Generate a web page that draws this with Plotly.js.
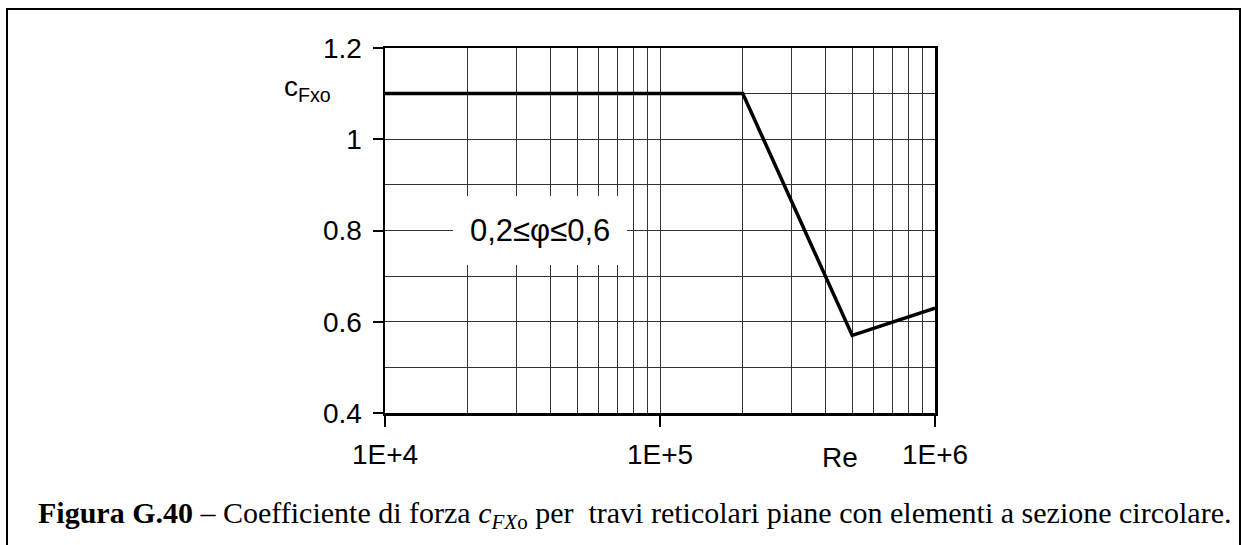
<!DOCTYPE html>
<html>
<head>
<meta charset="utf-8">
<script src="https://cdn.plot.ly/plotly-3.0.1.min.js"></script>
<style>
  html, body { margin: 0; padding: 0; background: #ffffff; }
  #chart { width: 1242px; height: 545px; }
</style>
</head>
<body>
<div id="chart"></div>
<script>
// ---- data ----
const reynolds = [1e4, 2e5, 5e5, 1e6];
const cFxo = [1.1, 1.1, 0.57, 0.63];

const xTickVals = [1e4, 1e5, 1e6];
const xTickText = ['1E+4', '1E+5', '1E+6'];
const xMinorGrid = [2e4, 3e4, 4e4, 5e4, 6e4, 7e4, 8e4, 9e4,
                    2e5, 3e5, 4e5, 5e5, 6e5, 7e5, 8e5, 9e5];
const yTickVals = [0.4, 0.6, 0.8, 1.0, 1.2];
const yTickText = ['0.4', '0.6', '0.8', '1', '1.2'];
const yMinorGrid = [0.5, 0.7, 0.9, 1.1];

const rangeLabel = '0,2≤φ≤0,6';
const axisYLabel = 'c<sub>Fxo</sub>';
const axisXLabel = 'Re';
const caption = '<b>Figura G.40</b> – Coefficiente di forza <i>c<sub>FX</sub></i><sub>o</sub> per\u00a0 travi reticolari piane con elementi a sezione circolare.';

const sans = 'Liberation Sans, Arial, sans-serif';
const serif = 'Liberation Serif, Times New Roman, serif';

const trace = {
  x: reynolds,
  y: cFxo,
  type: 'scatter',
  mode: 'lines',
  line: { color: '#000000', width: 3.5 },
  hoverinfo: 'skip',
  showlegend: false
};

const layout = {
  width: 1242,
  height: 545,
  margin: { l: 385, r: 307, t: 48, b: 132, pad: 0 },
  paper_bgcolor: '#ffffff',
  plot_bgcolor: '#ffffff',
  font: { family: sans, size: 28, color: '#000000' },
  xaxis: {
    type: 'log',
    range: [4, 6],
    tickmode: 'array',
    tickvals: xTickVals,
    ticktext: xTickText,
    ticks: 'outside',
    ticklen: 11,
    tickwidth: 2,
    tickcolor: '#000000',
    ticklabelstandoff: 4,
    showline: true,
    linewidth: 2.5,
    linecolor: '#000000',
    mirror: true,
    showgrid: true,
    gridcolor: '#333333',
    gridwidth: 1,
    zeroline: false,
    tickfont: { family: sans, size: 28, color: '#000000' },
    minor: {
      tickmode: 'array',
      tickvals: xMinorGrid,
      showgrid: true,
      gridcolor: '#333333',
      gridwidth: 1,
      ticks: ''
    },
    fixedrange: true
  },
  yaxis: {
    range: [0.4, 1.2],
    tickmode: 'array',
    tickvals: yTickVals,
    ticktext: yTickText,
    ticks: 'outside',
    ticklen: 10,
    tickwidth: 2,
    tickcolor: '#000000',
    ticklabelstandoff: 5,
    showline: true,
    linewidth: 2.5,
    linecolor: '#000000',
    mirror: true,
    showgrid: true,
    gridcolor: '#333333',
    gridwidth: 1,
    zeroline: false,
    tickfont: { family: sans, size: 28, color: '#000000' },
    minor: {
      tickmode: 'array',
      tickvals: yMinorGrid,
      showgrid: true,
      gridcolor: '#333333',
      gridwidth: 1,
      ticks: ''
    },
    fixedrange: true
  },
  annotations: [
    {
      xref: 'x', yref: 'y',
      x: 4.565, y: 0.8,
      text: rangeLabel,
      showarrow: false,
      bgcolor: '#ffffff',
      borderpad: 17,
      borderwidth: 0,
      font: { family: sans, size: 31, color: '#000000' },
      xanchor: 'center', yanchor: 'middle'
    },
    {
      xref: 'paper', yref: 'paper',
      x: (282 - 385) / 550, y: (413 - 88) / 365,
      text: axisYLabel,
      showarrow: false,
      font: { family: sans, size: 28, color: '#000000' },
      xanchor: 'left', yanchor: 'middle'
    },
    {
      xref: 'paper', yref: 'paper',
      x: (840 - 385) / 550, y: (413 - 457) / 365,
      text: axisXLabel,
      showarrow: false,
      font: { family: sans, size: 28, color: '#000000' },
      xanchor: 'center', yanchor: 'middle'
    },
    {
      xref: 'paper', yref: 'paper',
      x: (36 - 385) / 550, y: (413 - 515) / 365,
      text: caption,
      showarrow: false,
      font: { family: serif, size: 30, color: '#000000' },
      xanchor: 'left', yanchor: 'middle'
    }
  ],
  shapes: [
    {
      type: 'path',
      xref: 'paper', yref: 'paper',
      path: 'M ' + ((7 - 385) / 550) + ',' + ((413 - 560) / 365) +
            ' L ' + ((7 - 385) / 550) + ',' + ((413 - 9) / 365) +
            ' L ' + ((1240 - 385) / 550) + ',' + ((413 - 9) / 365) +
            ' L ' + ((1240 - 385) / 550) + ',' + ((413 - 560) / 365),
      line: { color: '#000000', width: 2 },
      layer: 'above'
    }
  ]
};

Plotly.newPlot('chart', [trace], layout, { staticPlot: true, displayModeBar: false });
</script>
</body>
</html>
